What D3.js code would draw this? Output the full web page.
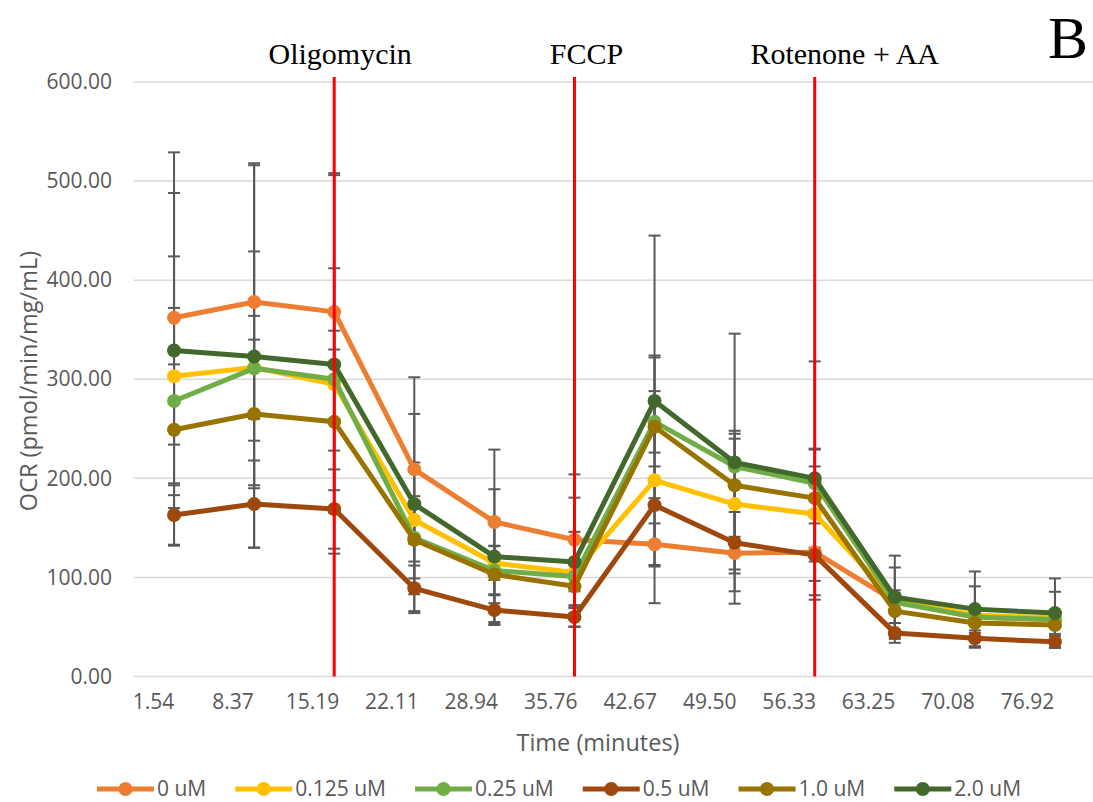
<!DOCTYPE html>
<html>
<head>
<meta charset="utf-8">
<style>
  body { margin: 0; background: #fff; }
  svg { display: block; }
  .tick text { font-family: "Open Sans", sans-serif; font-size: 21px; fill: #595959; }
  .axis-title { font-family: "Open Sans", sans-serif; font-size: 23.5px; fill: #595959; }
  .legend text { font-family: "Open Sans", sans-serif; font-size: 21px; fill: #595959; }
  .note { font-family: "Liberation Serif", "Times New Roman", serif; font-size: 30px; fill: #000; }
</style>
</head>
<body>
<script src="https://cdn.jsdelivr.net/npm/d3@7"></script>
<script>
// measurement times (x categories)
var times = ["1.54", "8.37", "15.19", "22.11", "28.94", "35.76", "42.67", "49.50", "56.33", "63.25", "70.08", "76.92"];
var yTicks = [0, 100, 200, 300, 400, 500, 600];

var seriesNames = ["0 uM", "0.125 uM", "0.25 uM", "0.5 uM", "1.0 uM", "2.0 uM"];
var seriesColors = ["#ED7D31", "#FFC000", "#70AD47", "#9E480E", "#997300", "#43682B"];

// mean OCR per series
var ocr0    = [362, 378, 368, 209, 156, 138, 133.5, 124.5, 125.5, 76, 60, 57];
var ocr0125 = [303, 312, 295, 158, 114.5, 105, 198, 174, 164, 77, 62, 59];
var ocr025  = [278, 311, 300, 140, 107, 101, 257, 212, 195, 75, 60, 57.5];
var ocr05   = [163, 174, 169, 89, 67, 60, 173, 135, 122.5, 44, 38.5, 35];
var ocr10   = [249, 265, 257, 138, 103, 91, 252, 193, 180, 66, 54, 52];
var ocr20   = [329, 323, 315, 174, 121, 115.5, 278, 216, 200, 80, 68, 64];

// error bar half-lengths per series
var err0    = [167, 140, 140, 93, 73, 66, 21, 51, 29, 8, 6, 6];
var err0125 = [69, 52, 35, 24, 17, 41, 124, 66, 48, 10, 8, 8];
var err025  = [146, 118, 112, 76, 52, 15, 31, 36, 34, 35, 31, 28];
var err05   = [30, 44, 40, 23, 15, 10, 39, 31, 45, 10, 8, 6];
var err10   = [66, 75, 92, 39, 29, 22, 72, 52, 50, 12, 10, 9];
var err20   = [159, 193, 191, 91, 68, 65, 167, 130, 118, 42, 38, 35];

// injections (vertical red lines)
var injections = ["Oligomycin", "FCCP", "Rotenone + AA"];
var injectionAt = ["15.19", "35.76", "56.33"];

var means = [ocr0, ocr0125, ocr025, ocr05, ocr10, ocr20];
var errs = [err0, err0125, err025, err05, err10, err20];

var series = seriesNames.map(function(name, i) {
  return {
    name: name,
    color: seriesColors[i],
    values: times.map(function(t, j) { return {t: t, v: means[i][j], e: errs[i][j]}; })
  };
});

var W = 1093, H = 802;
var svg = d3.select("body").append("svg").attr("width", W).attr("height", H);

var x = d3.scaleBand().domain(times).range([134, 1095]).padding(0);
var xLabel = d3.scalePoint().domain(times).range([153, 1027]);
var y = d3.scaleLinear().domain([0, 600]).range([676.5, 82]);
var cx = function(t) { return x(t) + x.bandwidth() / 2; };

// gridlines
svg.append("g").selectAll("line").data(yTicks).enter().append("line")
  .attr("x1", 134).attr("x2", W)
  .attr("y1", function(d) { return y(d); }).attr("y2", function(d) { return y(d); })
  .attr("stroke", "#D9D9D9").attr("stroke-width", 1.5);

// y axis labels
var yAxis = svg.append("g").attr("transform", "translate(112,0)")
  .call(d3.axisLeft(y).tickValues(yTicks).tickFormat(d3.format(".2f")).tickSize(0).tickPadding(0));
yAxis.select(".domain").remove();

// x axis labels
var xAxis = svg.append("g").attr("transform", "translate(0,694)")
  .call(d3.axisBottom(xLabel).tickSize(0).tickPadding(0));
xAxis.select(".domain").remove();
xAxis.selectAll(".tick text").attr("dy", "0.71em");

svg.append("text").attr("class", "axis-title")
  .attr("x", 598).attr("y", 751).attr("text-anchor", "middle")
  .text("Time (minutes)");

svg.append("text").attr("class", "axis-title")
  .attr("transform", "translate(29,381) rotate(-90)")
  .attr("dy", "0.35em").attr("text-anchor", "middle")
  .text("OCR (pmol/min/mg/mL)");

// error bars
var eb = svg.append("g").attr("stroke", "#595959").attr("stroke-width", 2);
series.forEach(function(s) {
  s.values.forEach(function(d) {
    var x0 = cx(d.t), yt = y(d.v + d.e), yb = y(d.v - d.e);
    eb.append("line").attr("x1", x0).attr("x2", x0).attr("y1", yt).attr("y2", yb);
    eb.append("line").attr("x1", x0 - 6).attr("x2", x0 + 6).attr("y1", yt).attr("y2", yt);
    eb.append("line").attr("x1", x0 - 6).attr("x2", x0 + 6).attr("y1", yb).attr("y2", yb);
  });
});

// lines + markers
var line = d3.line().x(function(d) { return cx(d.t); }).y(function(d) { return y(d.v); });
var sg = svg.append("g").selectAll("g").data(series).enter().append("g");
sg.append("path")
  .attr("d", function(s) { return line(s.values); })
  .attr("fill", "none")
  .attr("stroke", function(s) { return s.color; })
  .attr("stroke-width", 5)
  .attr("stroke-linejoin", "round");
sg.selectAll("circle").data(function(s) { return s.values.map(function(d) { return {d: d, c: s.color}; }); })
  .enter().append("circle")
  .attr("cx", function(p) { return cx(p.d.t); })
  .attr("cy", function(p) { return y(p.d.v); })
  .attr("r", 7)
  .attr("fill", function(p) { return p.c; });

// injection lines + labels
svg.append("g").selectAll("line").data(injectionAt).enter().append("line")
  .attr("x1", function(t) { return cx(t); }).attr("x2", function(t) { return cx(t); })
  .attr("y1", 77).attr("y2", y(0))
  .attr("stroke", "#FF0000").attr("stroke-width", 3);

var noteShift = [6, 12, 30];
svg.append("g").selectAll("text").data(injections).enter().append("text")
  .attr("class", "note")
  .attr("x", function(n, i) { return cx(injectionAt[i]) + noteShift[i]; })
  .attr("y", 64)
  .attr("text-anchor", "middle")
  .text(function(n) { return n; });

svg.append("text")
  .attr("x", 1048).attr("y", 58)
  .style("font-family", "'Liberation Serif', 'Times New Roman', serif")
  .style("font-size", "60px")
  .text("B");

// legend
var legend = svg.append("g").attr("class", "legend");
var items = legend.selectAll("g").data(series).enter().append("g");
items.append("line").attr("x1", 0).attr("x2", 57).attr("y1", 0).attr("y2", 0)
  .attr("stroke", function(s) { return s.color; }).attr("stroke-width", 5);
items.append("circle").attr("cx", 28.5).attr("cy", 0).attr("r", 7)
  .attr("fill", function(s) { return s.color; });
items.append("text").attr("x", 60).attr("dy", "0.35em").text(function(s) { return s.name; });

var pos = 0, offsets = [];
items.each(function() {
  offsets.push(pos);
  pos += 60 + d3.select(this).select("text").node().getComputedTextLength() + 29;
});
var total = pos - 29;
var start = 559 - total / 2;
items.attr("transform", function(s, i) { return "translate(" + (start + offsets[i]) + ",789)"; });
</script>
</body>
</html>
